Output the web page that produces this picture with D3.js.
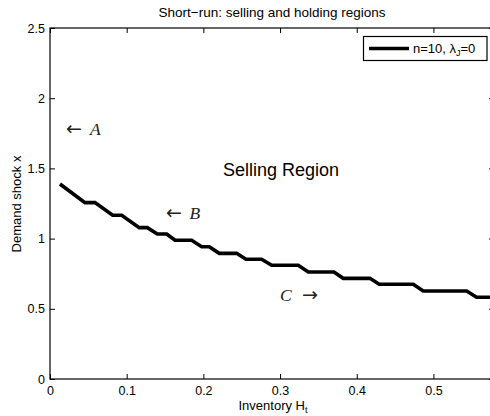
<!DOCTYPE html>
<html>
<head>
<meta charset="utf-8">
<script src="https://cdn.jsdelivr.net/npm/d3@7"></script>
<style>
  body { margin: 0; background: #fff; }
  svg { display: block; font-family: "Liberation Sans", Arial, sans-serif; }
</style>
</head>
<body>
<div id="vis"></div>
<script>
// boundary between selling and holding regions (vertices of the step curve)
const inventory = [0.013, 0.0456, 0.0587, 0.0817, 0.0935, 0.1164, 0.1269, 0.1399, 0.1522,
  0.163, 0.1847, 0.1978, 0.2077, 0.2207, 0.2434, 0.2555, 0.276, 0.289, 0.3237, 0.3368,
  0.3703, 0.3824, 0.4172, 0.4293, 0.4737, 0.4867, 0.5433, 0.5563, 0.58];
const shock = [1.389, 1.256, 1.256, 1.166, 1.166, 1.078, 1.078, 1.033, 1.033,
  0.988, 0.988, 0.942, 0.942, 0.895, 0.895, 0.853, 0.853, 0.81, 0.81, 0.762,
  0.762, 0.717, 0.717, 0.675, 0.675, 0.627, 0.627, 0.582, 0.582];

const xTicks = [0, 0.1, 0.2, 0.3, 0.4, 0.5];
const yTicks = [0, 0.5, 1, 1.5, 2, 2.5];

const W = 490, H = 416;
const mLeft = 50, mTop = 28, mRight = 494, mBottom = 379;

const x = d3.scaleLinear().domain([0, 0.579]).range([mLeft, mRight]);
const y = d3.scaleLinear().domain([0, 2.5]).range([mBottom, mTop]);

const svg = d3.select("#vis").append("svg")
  .attr("width", W)
  .attr("height", H);

//#region axes
const tickFmt = d => d === 0 ? "0" : String(d);

svg.append("g")
  .attr("transform", `translate(0,${mBottom})`)
  .call(d3.axisBottom(x).tickValues(xTicks).tickFormat(tickFmt).tickSizeInner(-5).tickSizeOuter(0).tickPadding(7))
  .call(g => g.select(".domain").remove())
  .call(g => g.selectAll("text").attr("font-size", 12.5).attr("fill", "#000").attr("font-family", null));

svg.append("g")
  .attr("transform", `translate(0,${mTop})`)
  .call(d3.axisTop(x).tickValues(xTicks).tickFormat("").tickSizeInner(-5).tickSizeOuter(0))
  .call(g => g.select(".domain").remove());

svg.append("g")
  .attr("transform", `translate(${mLeft},0)`)
  .call(d3.axisLeft(y).tickValues(yTicks).tickFormat(tickFmt).tickSizeInner(-5).tickSizeOuter(0).tickPadding(5))
  .call(g => g.select(".domain").remove())
  .call(g => g.selectAll("text").attr("font-size", 12.5).attr("fill", "#000").attr("font-family", null));

svg.append("g")
  .attr("transform", `translate(${mRight},0)`)
  .call(d3.axisRight(y).tickValues(yTicks).tickFormat("").tickSizeInner(-5).tickSizeOuter(0))
  .call(g => g.select(".domain").remove());

svg.append("rect")
  .attr("x", mLeft).attr("y", mTop)
  .attr("width", mRight - mLeft).attr("height", mBottom - mTop)
  .attr("fill", "none").attr("stroke", "#000").attr("stroke-width", 1.2);
//#endregion

//#region line
const line = d3.line()
  .x((d, i) => x(inventory[i]))
  .y(d => y(d));

svg.append("path")
  .datum(shock)
  .attr("fill", "none")
  .attr("stroke", "#000")
  .attr("stroke-width", 3.6)
  .attr("stroke-linejoin", "miter")
  .attr("d", line);
//#endregion

//#region labels
svg.append("text")
  .attr("x", 272).attr("y", 17)
  .attr("text-anchor", "middle")
  .attr("font-size", 13.5)
  .text("Short\u2212run: selling and holding regions");

const xl = svg.append("text")
  .attr("x", 273).attr("y", 410)
  .attr("text-anchor", "middle")
  .attr("font-size", 13);
xl.append("tspan").text("Inventory H");
xl.append("tspan").attr("font-size", 9).attr("dy", 3).text("t");

svg.append("text")
  .attr("transform", `translate(21,204) rotate(-90)`)
  .attr("text-anchor", "middle")
  .attr("font-size", 13)
  .text("Demand shock x");

svg.append("text")
  .attr("x", 281).attr("y", 176)
  .attr("text-anchor", "middle")
  .attr("font-size", 18)
  .text("Selling Region");

// arrow + italic letter annotations
const mark = (ax, lx, cy, arrow, letter) => {
  svg.append("text")
    .attr("x", ax).attr("y", cy + 6)
    .attr("font-family", "'DejaVu Sans', sans-serif")
    .attr("font-size", 19)
    .attr("fill", "#222")
    .text(arrow);
  svg.append("text")
    .attr("x", lx).attr("y", cy + 6)
    .attr("font-family", "'Liberation Serif', serif")
    .attr("font-style", "italic")
    .attr("font-size", 17.5)
    .attr("fill", "#222")
    .text(letter);
};
mark(66, 90, 129, "\u2190", "A");
mark(166, 189.5, 212.5, "\u2190", "B");
mark(302, 280, 295, "\u2192", "C");
//#endregion

//#region legend
const lg = svg.append("g");
lg.append("rect")
  .attr("x", 363.5).attr("y", 36.5)
  .attr("width", 123.5).attr("height", 24)
  .attr("fill", "#fff").attr("stroke", "#000").attr("stroke-width", 1.2);
lg.append("line")
  .attr("x1", 369).attr("x2", 409)
  .attr("y1", 48.5).attr("y2", 48.5)
  .attr("stroke", "#000").attr("stroke-width", 3.6);
const lt = lg.append("text")
  .attr("x", 413).attr("y", 53)
  .attr("font-size", 13);
lt.append("tspan").text("n=10, \u03bb");
lt.append("tspan").attr("font-size", 9).attr("dy", 3).text("J");
lt.append("tspan").attr("dy", -3).text("=0");
//#endregion
</script>
</body>
</html>
